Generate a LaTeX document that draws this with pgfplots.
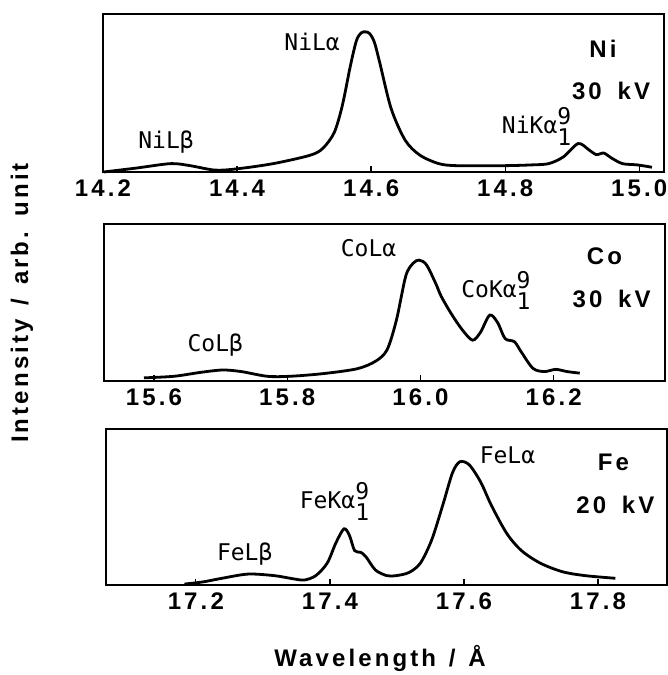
\documentclass[border=0pt]{standalone}
\usepackage{fontspec}
\usepackage{pgfplots}
\pgfplotsset{compat=1.18}
\setmainfont{Liberation Sans}
\newfontfamily\lab[LetterSpace=13]{Liberation Sans Bold}
\newfontfamily\pk{DejaVu Sans Mono}
\newcommand{\pkf}{\pk\fontsize{23}{25}\selectfont}
\newcommand{\bigb}{\lab\fontsize{24}{26}\selectfont}
\newcommand{\Ka}[1]{#1Kα\rlap{\raisebox{9pt}{9}}\raisebox{-12pt}{1}}
\begin{document}
\begin{tikzpicture}
\useasboundingbox (0pt,0pt) rectangle (667pt,675pt);
\pgfplotsset{panel/.style={
  scale only axis, width=561pt, height=157pt, anchor=south west,
  ymin=0, ymax=1, ytick=\empty, clip=false,
  axis line style={line width=1.6pt}, xtick pos=bottom, xtick align=inside,
  major tick length=6pt, tick style={line width=1.3pt, black},
  /pgf/number format/assume math mode=true,
  /pgf/number format/.cd, fixed, fixed zerofill, precision=1, /pgfplots/.cd,
  xticklabel style={font=\bigb, yshift=-4pt},
}, spec/.style={black, line width=2.8pt, smooth, no marks}}
% Ni, 30 kV
\begin{axis}[panel, at={(103pt,503pt)}, height=158pt, xmin=14.2, xmax=15.037,
  xtick={14.2,14.4,14.6,14.8,15.0}]
\addplot[spec] coordinates {(14.201,0.0) (14.25,0.025) (14.301,0.053) (14.33,0.04) (14.367,0.012) (14.40,0.02) (14.454,0.053) (14.509,0.106) (14.528,0.15) (14.545,0.25) (14.557,0.42) (14.569,0.67) (14.578,0.83) (14.585,0.88) (14.592,0.887) (14.598,0.875) (14.605,0.82) (14.613,0.69) (14.630,0.40) (14.651,0.2) (14.673,0.106) (14.701,0.053) (14.728,0.04) (14.798,0.04) (14.84,0.045) (14.865,0.053) (14.887,0.096) (14.909,0.18) (14.925,0.14) (14.936,0.11) (14.947,0.12) (14.958,0.09) (14.975,0.053) (14.997,0.045) (15.019,0.03)};
\node[anchor=base, font=\pkf] at (axis cs:14.512,0.766) {NiLα};
\node[anchor=base, font=\pkf] at (axis cs:14.294,0.149) {NiLβ};
\node[anchor=base west, font=\pkf] at (axis cs:14.790,0.245) {\Ka{Ni}};
\node[anchor=base, font=\bigb] at (axis cs:14.946,0.723) {Ni};
\node[anchor=base, font=\bigb] at (axis cs:14.958,0.457) {30\hspace{6pt} kV};
\end{axis}
% Co, 30 kV
\begin{axis}[panel, at={(104pt,294pt)}, xmin=15.525, xmax=16.367,
  xtick={15.6,15.8,16.0,16.2}]
\addplot[spec] coordinates {(15.585,0.02) (15.630,0.03) (15.67,0.055) (15.703,0.07) (15.731,0.06) (15.770,0.03) (15.804,0.03) (15.854,0.047) (15.905,0.078) (15.933,0.127) (15.950,0.20) (15.964,0.39) (15.978,0.67) (15.989,0.75) (15.998,0.77) (16.009,0.74) (16.023,0.62) (16.031,0.54) (16.046,0.43) (16.062,0.33) (16.078,0.26) (16.090,0.31) (16.104,0.42) (16.116,0.37) (16.127,0.27) (16.141,0.25) (16.152,0.18) (16.169,0.08) (16.186,0.06) (16.203,0.074) (16.220,0.06) (16.239,0.05)};
\node[anchor=base, font=\pkf] at (axis cs:15.922,0.793) {CoLα};
\node[anchor=base, font=\pkf] at (axis cs:15.692,0.19) {CoLβ};
\node[anchor=base west, font=\pkf] at (axis cs:16.056,0.529) {\Ka{Co}};
\node[anchor=base, font=\bigb] at (axis cs:16.276,0.74) {Co};
\node[anchor=base, font=\bigb] at (axis cs:16.287,0.465) {30\hspace{6pt} kV};
\end{axis}
% Fe, 20 kV
\begin{axis}[panel, at={(106pt,90pt)}, height=156pt, xmin=17.066, xmax=17.903,
  xtick={17.2,17.4,17.6,17.8}]
\addplot[spec] coordinates {(17.183,0.006) (17.211,0.02) (17.239,0.043) (17.278,0.07) (17.317,0.06) (17.345,0.04) (17.362,0.032) (17.379,0.06) (17.396,0.14) (17.409,0.27) (17.421,0.36) (17.429,0.32) (17.437,0.22) (17.446,0.21) (17.454,0.18) (17.468,0.096) (17.485,0.06) (17.499,0.06) (17.518,0.08) (17.535,0.14) (17.552,0.29) (17.569,0.52) (17.583,0.72) (17.594,0.79) (17.608,0.77) (17.625,0.66) (17.641,0.51) (17.664,0.33) (17.686,0.22) (17.714,0.14) (17.747,0.085) (17.781,0.06) (17.826,0.043)};
\node[anchor=base, font=\pkf] at (axis cs:17.665,0.78) {FeLα};
\node[anchor=base, font=\pkf] at (axis cs:17.273,0.16) {FeLβ};
\node[anchor=base west, font=\pkf] at (axis cs:17.350,0.489) {\Ka{Fe}};
\node[anchor=base, font=\bigb] at (axis cs:17.823,0.734) {Fe};
\node[anchor=base, font=\bigb] at (axis cs:17.826,0.457) {20\hspace{6pt} kV};
\end{axis}
\node[rotate=90, font=\bigb] at (22pt,372pt) {Intensity\hspace{4pt} / \hspace{4pt}arb.\hspace{2pt} unit};
\node[font=\bigb] at (380pt,17pt) {Wavelength\hspace{3pt} / \hspace{3pt}Å};
\end{tikzpicture}
\end{document}
